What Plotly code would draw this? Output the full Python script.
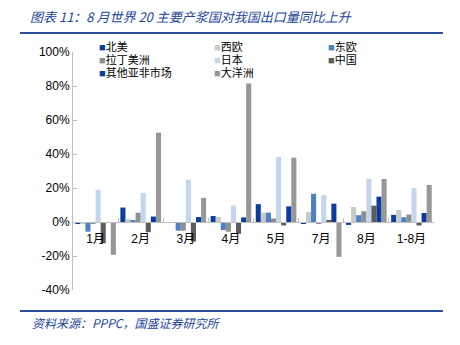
import plotly.graph_objects as go

categories = ["1月", "2月", "3月", "4月", "5月", "7月", "8月", "1-8月"]

north_america = [-1.2, 8.5, 0.0, 3.5, 10.5, -1.0, -1.7, 4.2]
western_europe = [-1.0, 1.8, 0.0, 3.0, 5.6, 5.9, 8.8, 7.1]
eastern_europe = [-5.7, 0.8, -5.1, -4.7, 5.5, 16.6, 4.0, 2.8]
latin_america = [-1.2, 5.4, -5.1, -5.7, 2.1, -1.0, 6.3, 4.4]
japan = [19.0, 17.1, 24.9, 9.7, 38.3, 15.8, 25.3, 19.9]
china = [-12.5, -6.0, -11.5, -7.0, -2.0, 0.8, 9.6, -2.0]
other_asia_africa = [0.0, 3.2, 2.9, 2.7, 9.2, 10.8, 14.9, 5.3]
oceania = [-19.3, 52.6, 14.2, 81.5, 37.8, -20.5, 25.3, 21.8]

series_names = ["北美", "西欧", "东欧", "拉丁美洲", "日本", "中国", "其他亚非市场", "大洋洲"]
series_values = [north_america, western_europe, eastern_europe, latin_america,
                 japan, china, other_asia_africa, oceania]
series_colors = ["#0B3D9C", "#C9C9C9", "#4D81C6", "#8F8F8F",
                 "#C4D6EE", "#5C5C5C", "#0A3CA0", "#979797"]

y_ticks = [-40, -20, 0, 20, 40, 60, 80, 100]
y_tick_labels = ["-40%", "-20%", "0%", "20%", "40%", "60%", "80%", "100%"]

W, H = 460, 345
L, R, T, B = 73, 26, 52, 55
pw, ph = W - L - R, H - T - B


def px_x(x):
    return (x - L) / pw


def px_y(y):
    return (H - B - y) / ph


fig = go.Figure()
for name, vals, col in zip(series_names, series_values, series_colors):
    fig.add_trace(go.Bar(x=categories, y=vals, name=name, marker_color=col,
                         marker_line_width=0, showlegend=False))

blue = "#23459A"
font_main = "Liberation Sans, Arial, Noto Sans CJK SC"

fig.update_layout(
    width=W, height=H,
    margin=dict(l=L, r=R, t=T, b=B),
    paper_bgcolor="white", plot_bgcolor="white",
    barmode="group", bargap=0.1, bargroupgap=0.0,
    title=dict(text="图表 11：8 月世界 20 主要产浆国对我国出口量同比上升",
               x=30 / W, xanchor="left", xref="container",
               y=1 - 17 / H, yanchor="middle", yref="container",
               font=dict(family="Noto Sans CJK SC", size=13, color=blue, style="italic")),
    xaxis=dict(type="category", anchor="free", position=40 / 140,
               showline=True, linecolor="#BFBFBF", linewidth=1,
               ticks="inside", tickson="boundaries", ticklen=4, tickcolor="#BFBFBF",
               ticklabelstandoff=6,
               tickfont=dict(family=font_main, size=12, color="#000000"),
               showgrid=False, zeroline=False),
    yaxis=dict(range=[-40, 100], tickmode="array", tickvals=y_ticks, ticktext=y_tick_labels,
               showline=True, linecolor="#BFBFBF", linewidth=1,
               ticks="inside", ticklen=4, tickcolor="#BFBFBF",
               tickfont=dict(family=font_main, size=12, color="#000000"),
               showgrid=False, zeroline=False),
)

# legend built as text entries (3 columns x 3 rows)
col_x = [98, 213, 327]
row_y = [46.5, 59.5, 72.5]
for i, (name, col) in enumerate(zip(series_names, series_colors)):
    r, c = divmod(i, 3)
    fig.add_annotation(
        x=px_x(col_x[c]), y=px_y(row_y[r]), xref="paper", yref="paper",
        xanchor="left", yanchor="middle", showarrow=False, borderpad=0,
        text=f'<span style="color:{col}">■</span>{name}',
        font=dict(family="Liberation Serif, Noto Sans CJK SC", size=11, color="#000000"))

# source note
fig.add_annotation(
    x=px_x(30), y=px_y(322), xref="paper", yref="paper",
    xanchor="left", yanchor="middle", showarrow=False,
    text="资料来源：PPPC，国盛证券研究所",
    font=dict(family="Noto Sans CJK SC", size=12, color=blue, style="italic"))

# header and footer rules
for yy in (33, 311):
    fig.add_shape(type="line", xref="paper", yref="paper",
                  x0=px_x(20), x1=px_x(443), y0=px_y(yy), y1=px_y(yy),
                  line=dict(color="#2A4E9C", width=2))

fig.write_html("out.html")
